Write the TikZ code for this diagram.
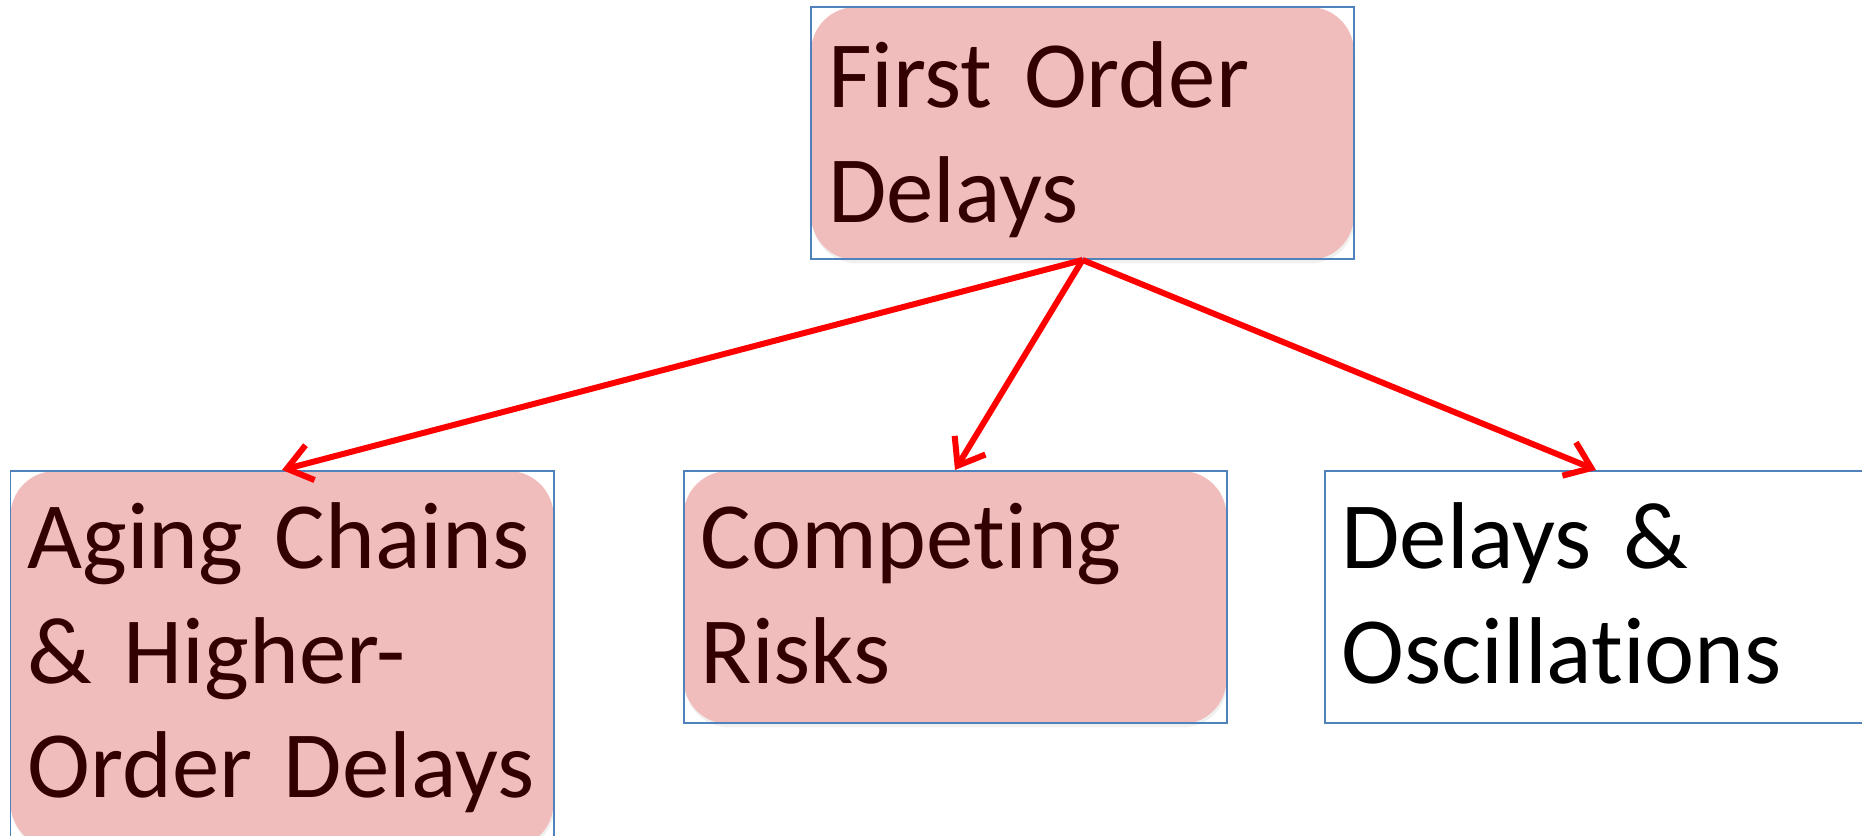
\documentclass[tikz,border=0pt]{standalone}
\usepackage{fontspec}
\setmainfont{Carlito}[Ligatures=NoCommon,WordSpace=0.72]
\usetikzlibrary{arrows.meta,positioning,backgrounds,shadows}

\definecolor{topicblue}{RGB}{79,129,189}
\definecolor{topicpink}{RGB}{240,188,188}
\definecolor{topictext}{RGB}{50,0,0}

\begin{document}
\begin{tikzpicture}[>=Stealth,
  topic/.style={draw=topicblue, line width=0.04cm, rectangle, anchor=north west,
    inner xsep=0.34cm, inner ysep=0pt, text width=10.18cm, align=left,
    text height=1.96cm, text depth=3.08cm,
    font=\fontsize{54pt}{64.9pt}\selectfont},
  marked/.style={text=topictext},
  link/.style={draw=red, line width=0.12cm, -{Straight Barb[length=0.48cm,width=0.72cm]}}]
  \useasboundingbox (0,0) rectangle (37.24,16.72);
  % Topics
  \node[topic,marked,text height=2.02cm,text depth=3.02cm] (first) at (16.2,16.6) {First~Order\\Delays};
  \node[topic,marked,text depth=5.56cm] (aging) at (0.19,7.32) {Aging~Chains\\\&~Higher-\\Order~Delays};
  \node[topic,marked,right=2.56cm of aging.north east,anchor=north west] (risks) {Competing\\Risks};
  \node[topic,right=1.92cm of risks.north east,anchor=north west] (oscill) {Delays~\&\\Oscillations};
  % Pink panels behind the marked topics
  \begin{scope}[on background layer]
    \foreach \n in {first,aging,risks} {
      \fill[topicpink, rounded corners=0.9cm,
        drop shadow={opacity=0.12, shadow xshift=0.02cm, shadow yshift=-0.07cm}]
        ([shift={(0.02,-0.02)}]\n.north west) rectangle ([shift={(-0.02,0)}]\n.south east);
    }
  \end{scope}
  % Links
  \foreach \n in {aging,risks,oscill}
    \draw[link] (first.south) -- (\n.north);
\end{tikzpicture}
\end{document}
